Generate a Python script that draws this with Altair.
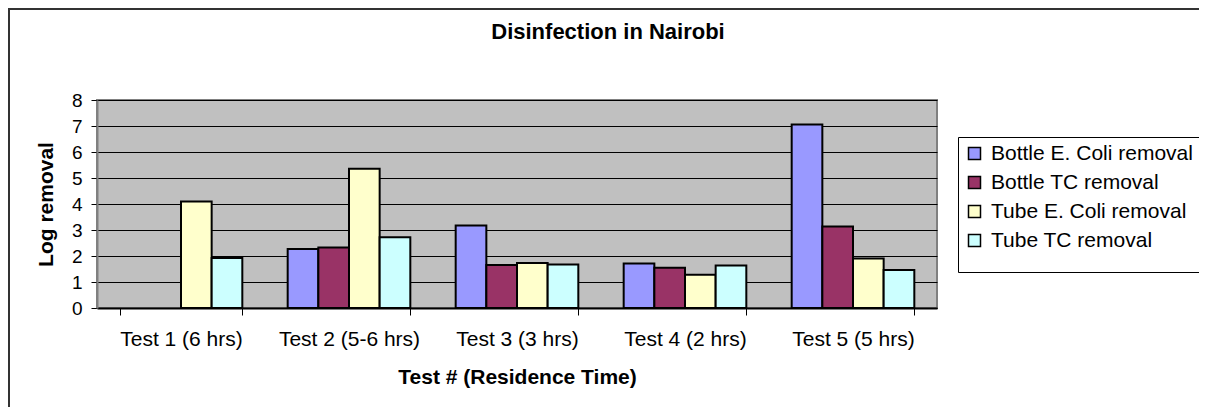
import altair as alt
import pandas as pd

categories = ["Test 1 (6 hrs)", "Test 2 (5-6 hrs)", "Test 3 (3 hrs)", "Test 4 (2 hrs)", "Test 5 (5 hrs)"]
series = ["Bottle E. Coli removal", "Bottle TC removal", "Tube E. Coli removal", "Tube TC removal"]
bottle_ecoli = [None, 2.27, 3.17, 1.71, 7.06]
bottle_tc = [None, 2.33, 1.65, 1.55, 3.13]
tube_ecoli = [4.10, 5.36, 1.73, 1.28, 1.90]
tube_tc = [1.92, 2.72, 1.67, 1.63, 1.46]
colors = ["#9999FF", "#993366", "#FFFFCC", "#CCFFFF"]

rows = []
for s, vals in zip(series, [bottle_ecoli, bottle_tc, tube_ecoli, tube_tc]):
    for c, v in zip(categories, vals):
        if v is not None:
            rows.append({"test": c, "series": s, "value": v})
df = pd.DataFrame(rows)

FONT = "Liberation Sans"
W, H = 840, 208

bars = alt.Chart(df).mark_bar(stroke="black", strokeWidth=2).encode(
    x=alt.X("test:N", sort=categories,
            scale=alt.Scale(paddingInner=0.27, paddingOuter=0.135),
            axis=alt.Axis(title="Test # (Residence Time)", labelAngle=0, tickBand="extent",
                          tickSize=7, tickColor="black", domainColor="black", domainWidth=2,
                          labelFontSize=21, labelPadding=13, labelColor="black", labelFont=FONT,
                          titleFont=FONT, titleFontSize=21, titleFontWeight="bold", titleColor="black",
                          titleBaseline="alphabetic", titleY=75, grid=False)),
    xOffset=alt.XOffset("series:N", sort=series, scale=alt.Scale(paddingInner=0, paddingOuter=0)),
    y=alt.Y("value:Q", scale=alt.Scale(domain=[0, 8], nice=False),
            axis=alt.Axis(title="Log removal", values=list(range(0, 9)), tickSize=6,
                          tickColor="black", domainColor="#808080", domainWidth=2,
                          labelFontSize=19, labelPadding=9, labelColor="black", labelFont=FONT,
                          grid=True, gridColor="black", gridWidth=1, gridOpacity=1,
                          titleFont=FONT, titleFontSize=21, titleFontWeight="bold", titleColor="black",
                          titleBaseline="alphabetic", titleX=-45, titleY=H / 2, titleAngle=-90)),
    fill=alt.Fill("series:N", sort=series, scale=alt.Scale(domain=series, range=colors),
                  legend=alt.Legend(title=" ", titleOrient="bottom", titleFontSize=9, titlePadding=6,
                                    orient="none", legendX=861, legendY=37,
                                    strokeColor="black", fillColor="white", padding=6,
                                    symbolType="square", symbolSize=144, symbolStrokeColor="black",
                                    symbolStrokeWidth=1.5, labelFontSize=21, labelFont=FONT,
                                    labelColor="black", rowPadding=7, labelOffset=6,
                                    labelLimit=400)),
)

border = alt.Chart(pd.DataFrame({"a": [0]})).mark_rect(
    fill="transparent", stroke="#333333", strokeWidth=2
).encode(x=alt.value(-88), x2=alt.value(1200), y=alt.value(-91), y2=alt.value(450))

chart = alt.layer(border, bars).properties(
    width=W, height=H,
    padding={"left": 89, "top": 92, "right": 262, "bottom": 99},
    autosize=alt.AutoSizeParams(type="none"),
    title=alt.TitleParams("Disinfection in Nairobi", fontSize=22, fontWeight="bold", font=FONT,
                          color="black", anchor="middle", baseline="alphabetic", offset=-53, dx=91),
).configure(background="white").configure_view(fill="#C0C0C0", stroke="#808080", strokeWidth=2)

chart.save("out.html", embed_options={"renderer": "svg", "actions": False})
